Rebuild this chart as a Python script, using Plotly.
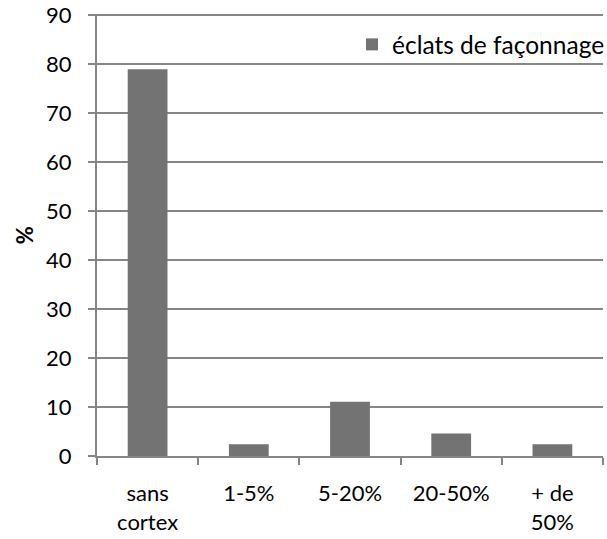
import plotly.graph_objects as go

categories = ["sans<br>cortex", "1-5%", "5-20%", "20-50%", "+ de<br>50%"]
values = [79.0, 2.4, 11.1, 4.6, 2.4]
series_name = "éclats de façonnage"
y_title = "%"
y_max = 90
y_step = 10

GRAY = "#868686"
FONT = "Lato"

fig = go.Figure()
fig.add_trace(go.Bar(
    x=categories, y=values, name=series_name,
    marker=dict(color="#737373", line=dict(width=0)),
    showlegend=True,
))

fig.add_annotation(
    text="<b>" + y_title + "</b>", xref="paper", yref="paper",
    x=-0.144, y=0.5, xanchor="center", yanchor="middle",
    textangle=-90, showarrow=False, font=dict(size=22, family=FONT, color="black"),
)

fig.update_layout(
    width=607, height=539,
    margin=dict(l=97, r=4, t=14, b=83, autoexpand=False),
    paper_bgcolor="white", plot_bgcolor="white",
    bargap=0.607,
    font=dict(family=FONT, size=22, color="black"),
    showlegend=True,
    legend=dict(
        x=0.504, xanchor="left", y=0.982, yanchor="top",
        bgcolor="rgba(0,0,0,0)", font=dict(size=24.5, family=FONT),
        itemwidth=30,
    ),
    xaxis=dict(
        type="category", automargin=False,
        showline=True, linecolor=GRAY, linewidth=2,
        ticks="outside", tickson="boundaries", ticklen=7, tickcolor=GRAY, tickwidth=2,
        showgrid=False, ticklabelstandoff=17,
        tickfont=dict(size=22, family=FONT),
    ),
    yaxis=dict(
        range=[0, y_max + 0.3], tickmode="linear", tick0=0, dtick=y_step, automargin=False,
        showline=True, linecolor=GRAY, linewidth=2,
        ticks="outside", ticklen=7, tickcolor=GRAY, tickwidth=2,
        showgrid=True, gridcolor=GRAY, gridwidth=2,
        zeroline=False,
        ticklabelstandoff=12,
        tickfont=dict(size=22, family=FONT),
    ),
)

fig.write_html("out.html", config={"displayModeBar": False},
               post_script="document.body.style.margin='0';document.body.style.padding='0';")
